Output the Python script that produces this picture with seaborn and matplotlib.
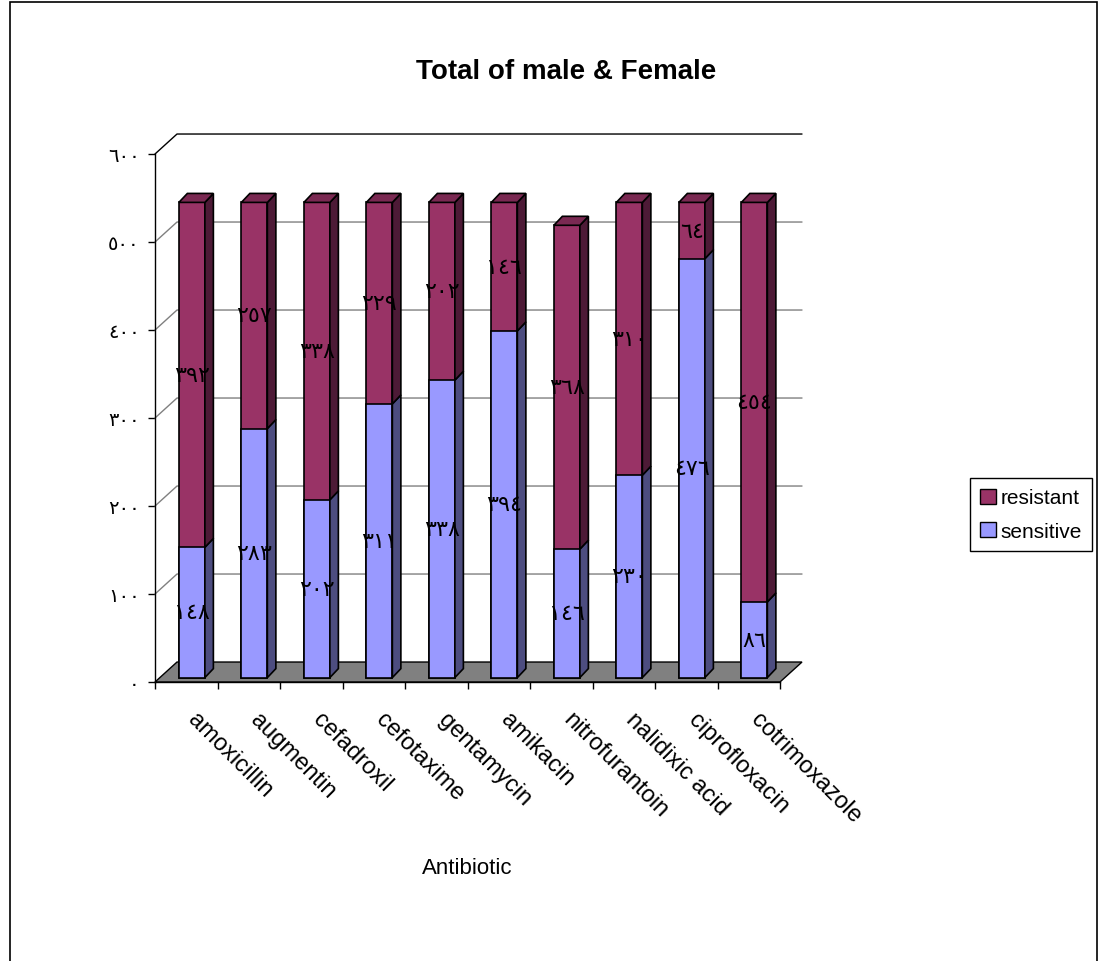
import numpy as np
import pandas as pd
import matplotlib
matplotlib.use("Agg")
import matplotlib.pyplot as plt
from matplotlib.patches import Polygon, Patch, Rectangle
from matplotlib.transforms import ScaledTranslation
import seaborn as sns

# ---- data -------------------------------------------------------------
antibiotics = ["amoxicillin", "augmentin", "cefadroxil", "cefotaxime", "gentamycin",
               "amikacin", "nitrofurantoin", "nalidixic acid", "ciprofloxacin",
               "cotrimoxazole"]
sensitive = [148, 283, 202, 311, 338, 394, 146, 230, 476, 86]
resistant = [392, 257, 338, 229, 202, 146, 368, 310, 64, 454]
y_ticks = [0, 100, 200, 300, 400, 500, 600]
series_names = ["resistant", "sensitive"]
title = "Total of male & Female"
x_title = "Antibiotic"

ARABIC_DIGITS = str.maketrans("0123456789", "٠١٢٣٤٥٦٧٨٩")


def arabic(n):
    return str(n).translate(ARABIC_DIGITS)


sns.set_theme(style="white")
plt.rcParams["font.family"] = ["Liberation Sans", "DejaVu Sans"]
plt.rcParams["text.color"] = "black"
plt.rcParams["xtick.color"] = "black"
plt.rcParams["ytick.color"] = "black"
plt.rcParams["axes.labelcolor"] = "black"

W, H = 1099, 962
fig = plt.figure(figsize=(W / 100, H / 100), dpi=100)
ax = fig.add_axes([155 / W, 1 - 683 / H, 625 / W, 528 / H])

# depth of walls / floor and of the bars, in data units
WALL_DX, WALL_DY = 0.352, 22.7
BAR_DX, BAR_DY = 0.136, 10.2
BAR_SHIFT_X, BAR_SHIFT_Y = 0.09, 5.0
BAR_W = 0.416

RES_FRONT, RES_SIDE, RES_TOP = "#993366", "#4D1A36", "#7A2952"
SEN_FRONT, SEN_SIDE = "#9999FF", "#4D4D80"
GRID = "#808080"

df = pd.DataFrame({"antibiotic": antibiotics,
                   "sensitive": sensitive,
                   "resistant": resistant})
df["total"] = df["sensitive"] + df["resistant"]

# back wall gridlines with the diagonal on the side wall
for v in y_ticks[1:]:
    ax.plot([-0.5, -0.5 + WALL_DX, 9.5 + WALL_DX],
            [v, v + WALL_DY, v + WALL_DY],
            color="black" if v == y_ticks[-1] else GRID, lw=1,
            clip_on=False, zorder=1)

# grey floor
ax.add_patch(Polygon([(-0.5, 0), (9.5, 0), (9.5 + WALL_DX, WALL_DY),
                      (-0.5 + WALL_DX, WALL_DY)], closed=True,
                     fc=GRID, ec="black", lw=1, clip_on=False, zorder=2))

# stacked bars: totals in the resistant colour, sensitive part over them
n0 = len(ax.patches)
sns.barplot(data=df, x="antibiotic", y="total", color=RES_FRONT, saturation=1,
            width=BAR_W, edgecolor="black", linewidth=1.2, errorbar=None,
            zorder=3, ax=ax)
res_bars = list(ax.patches)[n0:]
n1 = len(ax.patches)
sns.barplot(data=df, x="antibiotic", y="sensitive", color=SEN_FRONT, saturation=1,
            width=BAR_W, edgecolor="black", linewidth=1.2, errorbar=None,
            zorder=3, ax=ax)
sen_bars = list(ax.patches)[n1:]

for p in res_bars + sen_bars:
    p.set_x(p.get_x() + BAR_SHIFT_X)
    p.set_y(p.get_y() + BAR_SHIFT_Y)


def side_face(xr, y0, y1, color):
    ax.add_patch(Polygon([(xr, y0), (xr + BAR_DX, y0 + BAR_DY),
                          (xr + BAR_DX, y1 + BAR_DY), (xr, y1)], closed=True,
                         fc=color, ec="black", lw=1.2, clip_on=False, zorder=3))


for rb, sb, s, r in zip(res_bars, sen_bars, sensitive, resistant):
    xl = rb.get_x()
    xr = xl + rb.get_width()
    y0 = rb.get_y()
    ys = sb.get_y() + sb.get_height()
    yt = y0 + rb.get_height()
    side_face(xr, y0, ys, SEN_SIDE)
    side_face(xr, ys, yt, RES_SIDE)
    ax.add_patch(Polygon([(xl, yt), (xl + BAR_DX, yt + BAR_DY),
                          (xr + BAR_DX, yt + BAR_DY), (xr, yt)], closed=True,
                         fc=RES_TOP, ec="black", lw=1.2, clip_on=False, zorder=3))
    xc = xl + rb.get_width() / 2
    ax.text(xc, y0 + s / 2, arabic(s), ha="center", va="center", fontsize=16,
            family="DejaVu Sans", color="black", zorder=5)
    ax.text(xc, ys + r / 2, arabic(r), ha="center", va="center", fontsize=16,
            family="DejaVu Sans", color="black", zorder=5)

# axes
ax.set_xlim(-0.5, 9.5)
ax.set_ylim(0, 600)
for side in ("top", "right"):
    ax.spines[side].set_visible(False)
for side in ("left", "bottom"):
    ax.spines[side].set_color("black")
    ax.spines[side].set_linewidth(1)
    ax.spines[side].set_zorder(4)

ax.set_yticks(y_ticks)
ax.set_yticklabels([arabic(v) for v in y_ticks], family="DejaVu Sans", fontsize=14)
ax.tick_params(axis="y", left=True, length=5, width=1, color="black",
               direction="out", pad=6)

ax.set_xticks(range(len(antibiotics)))
ax.set_xticklabels(antibiotics, rotation=-45, ha="left", va="top",
                   rotation_mode="anchor", fontsize=17)
ax.tick_params(axis="x", which="major", length=0, pad=19)
ax.set_xticks(np.arange(-0.5, len(antibiotics), 1), minor=True)
ax.tick_params(axis="x", which="minor", bottom=True, length=5, width=1,
               color="black", direction="out")
shift = ScaledTranslation(13 / 100, 0, fig.dpi_scale_trans)
for lbl in ax.get_xticklabels():
    lbl.set_transform(lbl.get_transform() + shift)

ax.set_ylabel("")
ax.set_xlabel(x_title, fontsize=16)
ax.xaxis.set_label_coords(0.5, -0.331)

fig.text(566 / W, 1 - 72 / H, title, ha="center", va="center",
         fontsize=20, fontweight="bold", color="black")

handles = [Patch(fc=RES_FRONT, ec="black", label=series_names[0]),
           Patch(fc=SEN_FRONT, ec="black", label=series_names[1])]
leg = fig.legend(handles=handles, loc="upper left",
                 bbox_to_anchor=(970 / W, 1 - 479 / H), frameon=True,
                 fancybox=False, edgecolor="black", framealpha=1, fontsize=15,
                 handlelength=0.75, handleheight=0.75, handletextpad=0.2,
                 borderpad=0.5, labelspacing=0.7, borderaxespad=0)
leg.get_frame().set_linewidth(1)

fig.add_artist(Rectangle((10 / W, -0.01), (1097 - 10) / W, 1.01 - 3 / H,
                         fill=False, ec="black", lw=1.2,
                         transform=fig.transFigure))

fig.savefig("out.png", dpi=100)
